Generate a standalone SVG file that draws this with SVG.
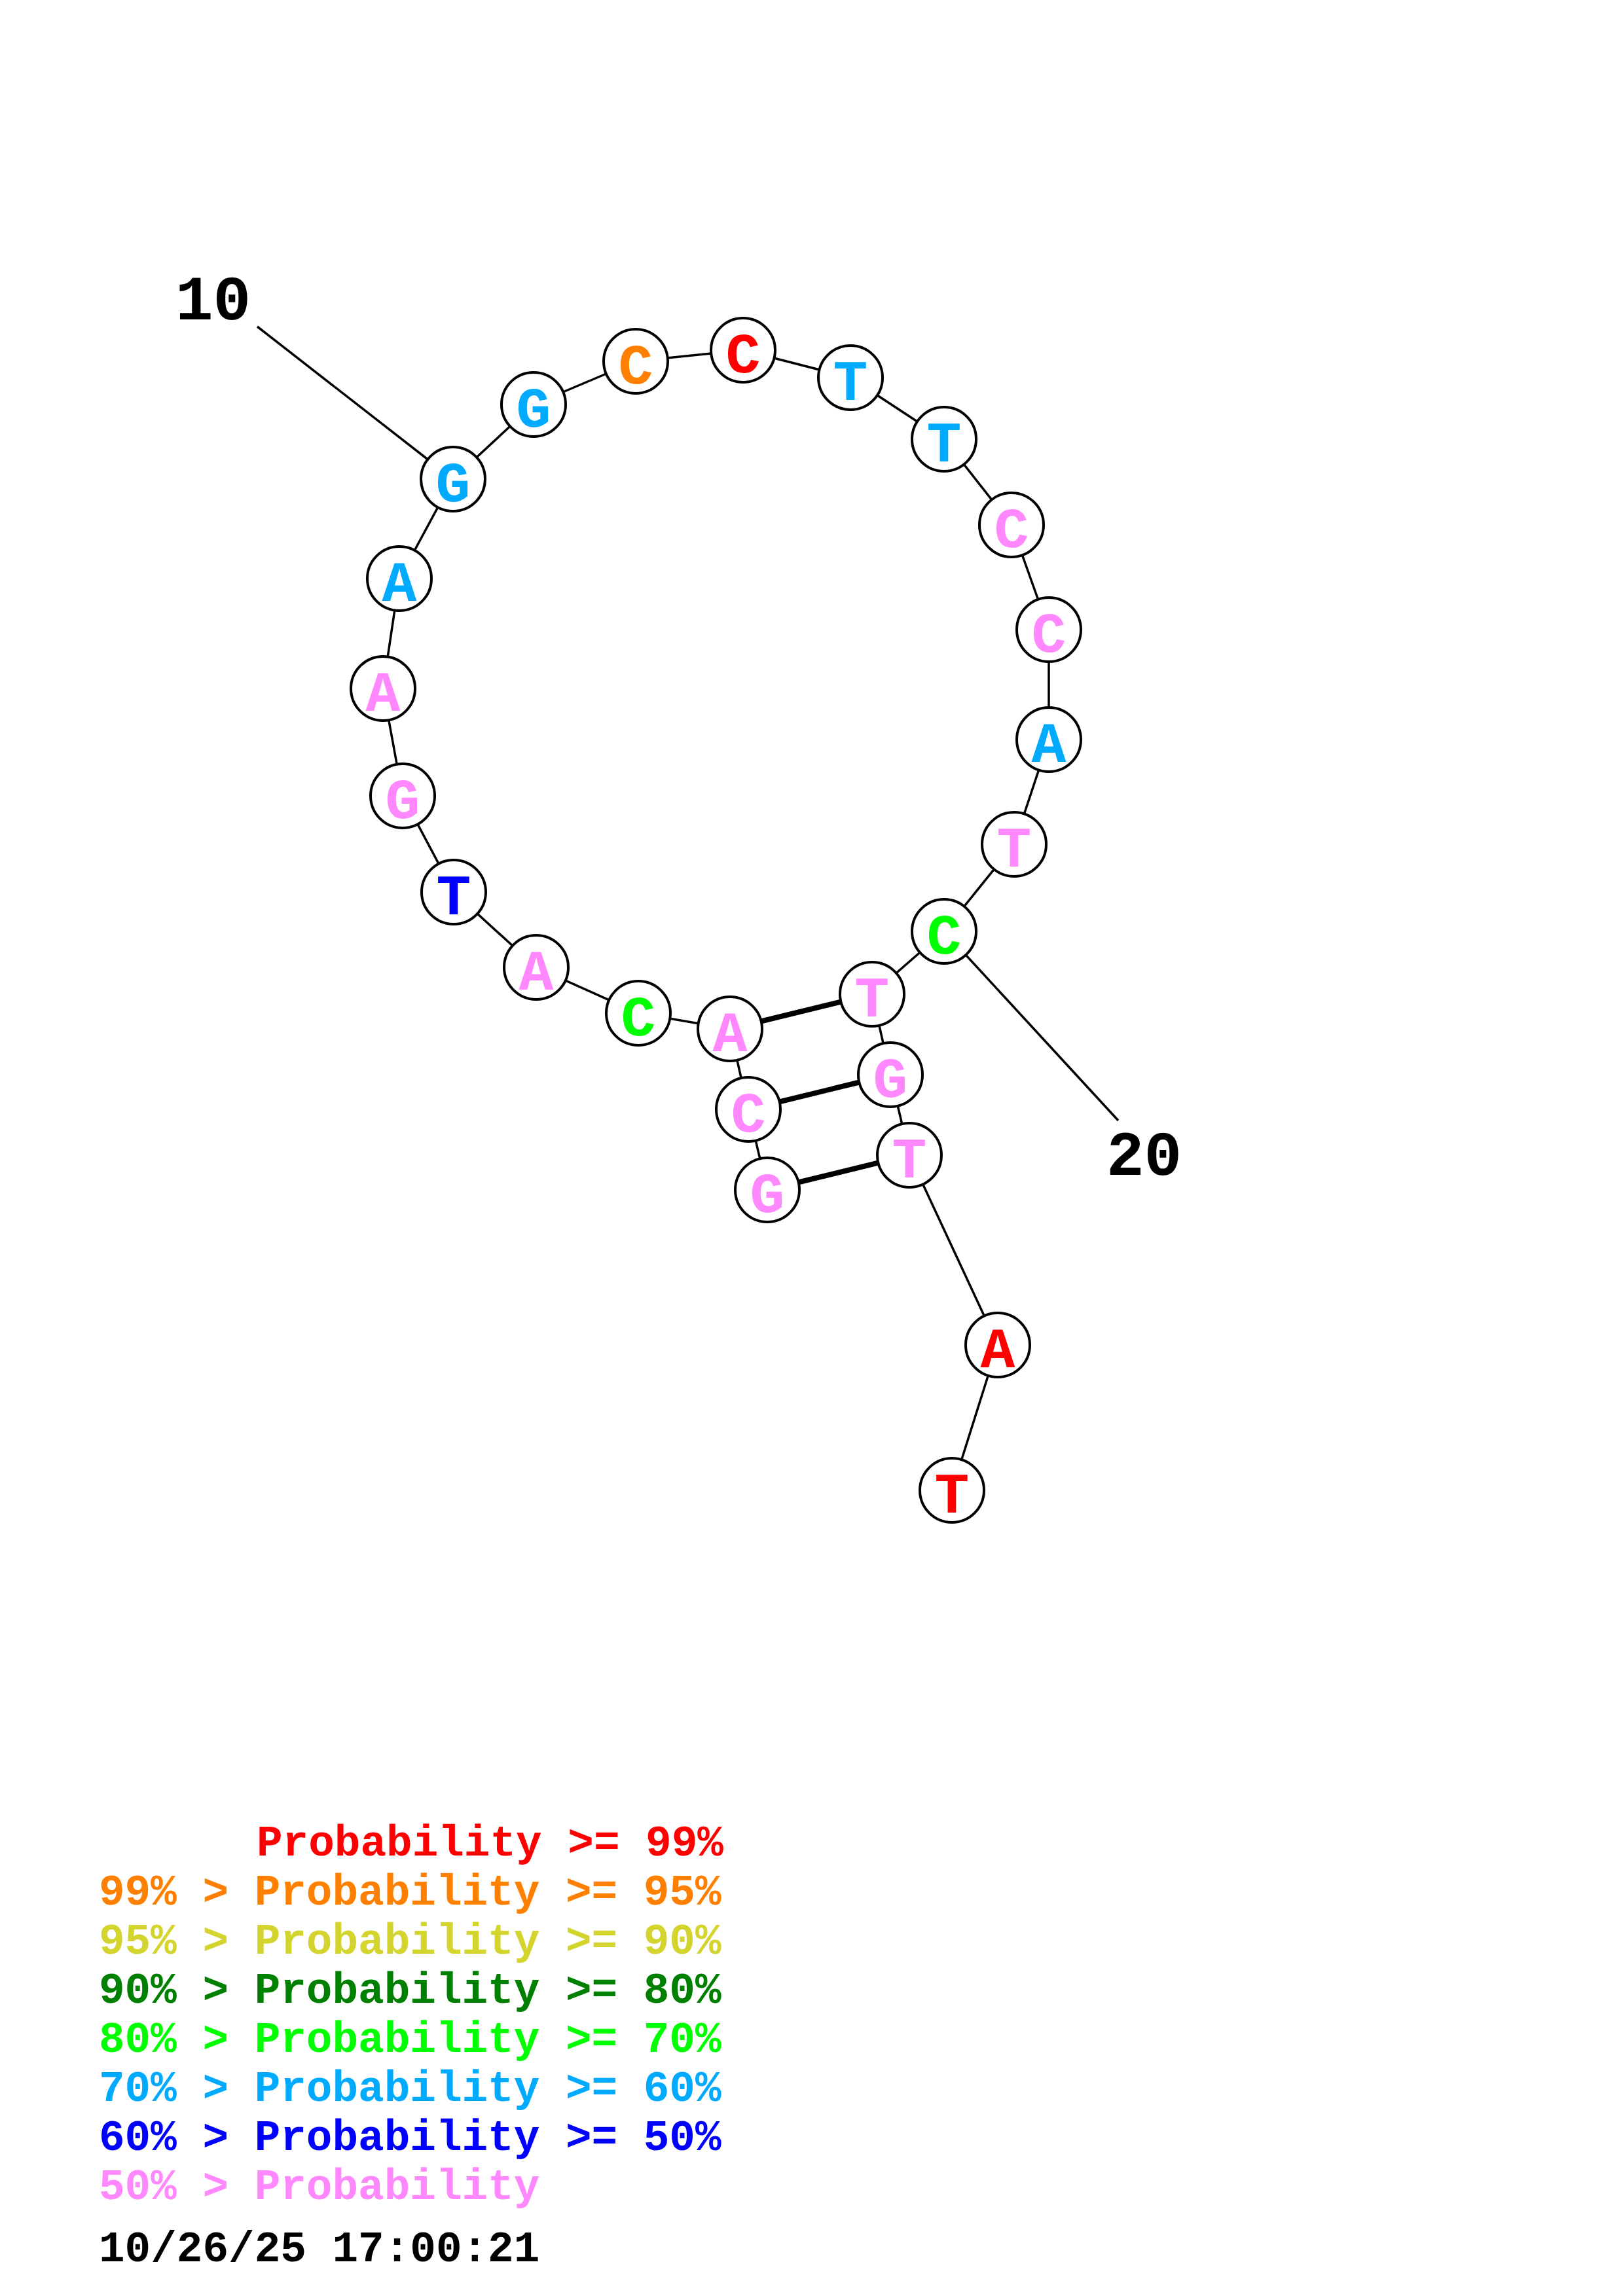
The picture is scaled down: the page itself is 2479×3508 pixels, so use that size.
<svg xmlns="http://www.w3.org/2000/svg" width="2479" height="3508" viewBox="0 0 2479 3508">
<style>
.bb{fill:none;stroke:#000;stroke-width:3.5;stroke-linejoin:round}
.pr{stroke:#000;stroke-width:8}
.lbl{stroke:#000;stroke-width:3.5}
.nd circle{fill:#fff;stroke:#000;stroke-width:4}
.nd text{font-family:"Courier New","Liberation Mono",monospace;font-weight:bold;font-size:88px;text-anchor:middle}
.num{font-family:"Liberation Mono","DejaVu Sans Mono",monospace;font-weight:bold;font-size:96px;fill:#000}
.leg{font-family:"Courier New","Liberation Mono",monospace;font-weight:bold;font-size:66px;white-space:pre}
.ts{font-family:"Liberation Mono","DejaVu Sans Mono",monospace;font-weight:bold;font-size:66px;fill:#000}
.c99{fill:#FF0000}.c95{fill:#FF8000}.c90{fill:#D4D42E}.c80{fill:#008000}.c70{fill:#00FF00}.c60{fill:#00AAFF}.c50{fill:#0000FF}.c0{fill:#FF88FF}
</style>
<rect width="2479" height="3508" fill="#fff"/>
<g id="connectors">
<polyline class="bb" points="1172,1818 1143,1695 1115,1572 975,1548 819,1478 693,1363 615,1216 585,1052 610,884 692,732 815,618 971,552 1135,535 1299,577 1442,671 1545,802 1602,962 1602,1130 1549,1290 1442,1423 1332,1519 1360,1642 1389,1765 1524,2055 1454,2277"/>
<line class="pr" x1="1115" y1="1572" x2="1332" y2="1519"/>
<line class="pr" x1="1143" y1="1695" x2="1360" y2="1642"/>
<line class="pr" x1="1172" y1="1818" x2="1389" y2="1765"/>
<line class="lbl" x1="692" y1="732" x2="393" y2="499"/>
<line class="lbl" x1="1442" y1="1423" x2="1708" y2="1712"/>
</g>
<g id="n1" class="nd"><circle cx="1172" cy="1818" r="49"/><text x="1172" y="1852" class="c0">G</text></g>
<g id="n2" class="nd"><circle cx="1143" cy="1695" r="49"/><text x="1143" y="1729" class="c0">C</text></g>
<g id="n3" class="nd"><circle cx="1115" cy="1572" r="49"/><text x="1115" y="1606" class="c0">A</text></g>
<g id="n4" class="nd"><circle cx="975" cy="1548" r="49"/><text x="975" y="1582" class="c70">C</text></g>
<g id="n5" class="nd"><circle cx="819" cy="1478" r="49"/><text x="819" y="1512" class="c0">A</text></g>
<g id="n6" class="nd"><circle cx="693" cy="1363" r="49"/><text x="693" y="1397" class="c50">T</text></g>
<g id="n7" class="nd"><circle cx="615" cy="1216" r="49"/><text x="615" y="1250" class="c0">G</text></g>
<g id="n8" class="nd"><circle cx="585" cy="1052" r="49"/><text x="585" y="1086" class="c0">A</text></g>
<g id="n9" class="nd"><circle cx="610" cy="884" r="49"/><text x="610" y="918" class="c60">A</text></g>
<g id="n10" class="nd"><circle cx="692" cy="732" r="49"/><text x="692" y="766" class="c60">G</text></g>
<g id="n11" class="nd"><circle cx="815" cy="618" r="49"/><text x="815" y="652" class="c60">G</text></g>
<g id="n12" class="nd"><circle cx="971" cy="552" r="49"/><text x="971" y="586" class="c95">C</text></g>
<g id="n13" class="nd"><circle cx="1135" cy="535" r="49"/><text x="1135" y="569" class="c99">C</text></g>
<g id="n14" class="nd"><circle cx="1299" cy="577" r="49"/><text x="1299" y="611" class="c60">T</text></g>
<g id="n15" class="nd"><circle cx="1442" cy="671" r="49"/><text x="1442" y="705" class="c60">T</text></g>
<g id="n16" class="nd"><circle cx="1545" cy="802" r="49"/><text x="1545" y="836" class="c0">C</text></g>
<g id="n17" class="nd"><circle cx="1602" cy="962" r="49"/><text x="1602" y="996" class="c0">C</text></g>
<g id="n18" class="nd"><circle cx="1602" cy="1130" r="49"/><text x="1602" y="1164" class="c60">A</text></g>
<g id="n19" class="nd"><circle cx="1549" cy="1290" r="49"/><text x="1549" y="1324" class="c0">T</text></g>
<g id="n20" class="nd"><circle cx="1442" cy="1423" r="49"/><text x="1442" y="1457" class="c70">C</text></g>
<g id="n21" class="nd"><circle cx="1332" cy="1519" r="49"/><text x="1332" y="1553" class="c0">T</text></g>
<g id="n22" class="nd"><circle cx="1360" cy="1642" r="49"/><text x="1360" y="1676" class="c0">G</text></g>
<g id="n23" class="nd"><circle cx="1389" cy="1765" r="49"/><text x="1389" y="1799" class="c0">T</text></g>
<g id="n24" class="nd"><circle cx="1524" cy="2055" r="49"/><text x="1524" y="2089" class="c99">A</text></g>
<g id="n25" class="nd"><circle cx="1454" cy="2277" r="49"/><text x="1454" y="2311" class="c99">T</text></g>
<g id="labels">
<text class="num" x="268" y="488">10</text>
<text class="num" x="1690" y="1795">20</text>
</g>
<g id="legend">
<text class="leg c99" x="392" y="2835">Probability &gt;= 99%</text>
<text class="leg c95" x="151" y="2910">99% &gt; Probability &gt;= 95%</text>
<text class="leg c90" x="151" y="2985">95% &gt; Probability &gt;= 90%</text>
<text class="leg c80" x="151" y="3060">90% &gt; Probability &gt;= 80%</text>
<text class="leg c70" x="151" y="3135">80% &gt; Probability &gt;= 70%</text>
<text class="leg c60" x="151" y="3210">70% &gt; Probability &gt;= 60%</text>
<text class="leg c50" x="151" y="3285">60% &gt; Probability &gt;= 50%</text>
<text class="leg c0" x="151" y="3360">50% &gt; Probability</text>
<text class="ts" x="151" y="3455">10/26/25 17:00:21</text>
</g>
</svg>
